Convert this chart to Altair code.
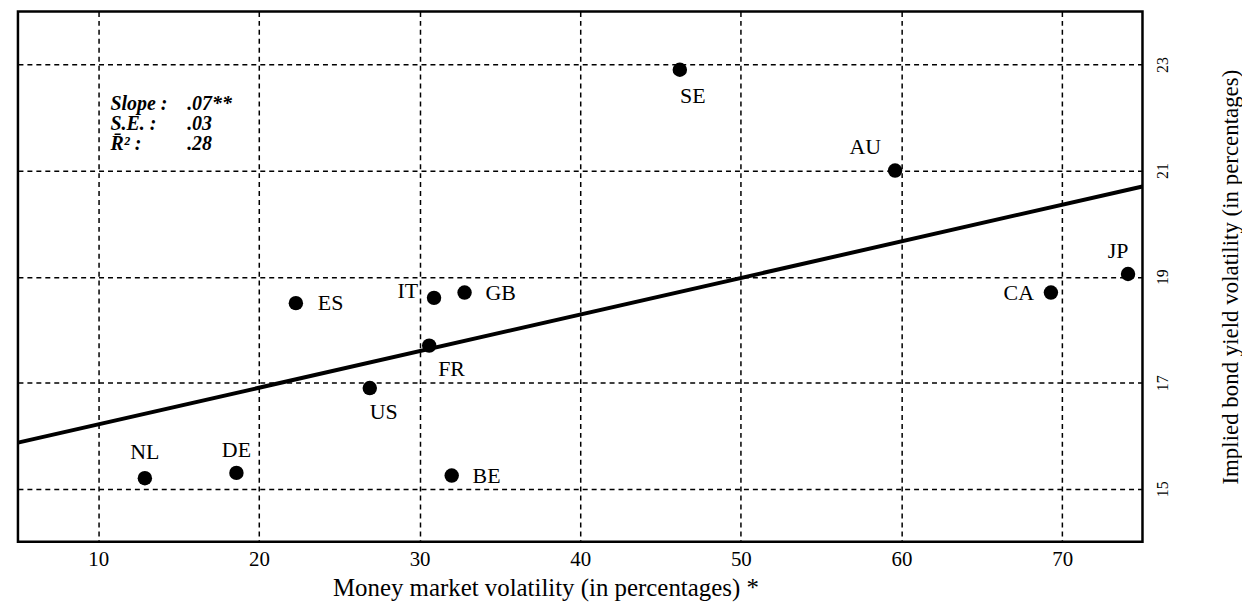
import altair as alt
import pandas as pd

# ---- data ----
countries = ["NL", "DE", "BE", "US", "FR", "IT", "GB", "ES", "SE", "AU", "JP", "CA"]
money_vol = [12.9, 18.6, 32.0, 26.9, 30.6, 30.9, 32.8, 22.3, 46.2, 59.6, 74.1, 69.3]
bond_vol = [15.2, 15.3, 15.25, 16.9, 17.7, 18.6, 18.7, 18.5, 22.9, 21.0, 19.05, 18.7]

x_ticks = [10, 20, 30, 40, 50, 60, 70]
y_ticks = [15, 17, 19, 21, 23]

fit_x = [5, 75]
fit_y = [15.87, 20.7]

stat_names = ["Slope :", "S.E. :", "R\u0304\u00b2 :"]
stat_values = [".07**", ".03", ".28"]

x_title = "Money market volatility (in percentages) *"
y_title = "Implied bond yield volatility (in percentages)"

# ---- styling ----
FONT = "Liberation Serif"
W, H = 1130, 533

# label placement relative to each dot: (align, dx, dy)
label_pos = {
    "NL": ("center", 0, -26), "DE": ("center", 0, -23), "BE": ("left", 21, 0),
    "US": ("center", 14, 24), "FR": ("left", 9, 24), "IT": ("right", -16, -7),
    "GB": ("left", 21, 0), "ES": ("left", 22, 0), "SE": ("center", 13, 26),
    "AU": ("center", -30, -24), "JP": ("center", -10, -23), "CA": ("right", -17, 0),
}

df = pd.DataFrame({"country": countries, "mm": money_vol, "bond": bond_vol})
fit = pd.DataFrame({"mm": fit_x, "bond": fit_y})

xs = alt.Scale(domain=[5, 75], nice=False, zero=False)
ys = alt.Scale(domain=[14, 24], nice=False, zero=False)

grid_style = dict(grid=True, gridDash=[5, 4], gridColor="black", gridWidth=1.5,
                  gridOpacity=1, ticks=False, domain=False)

xax = alt.Axis(values=x_ticks, labelFont=FONT, labelFontSize=21, labelColor="black",
               labelPadding=7, title=x_title, titleFont=FONT, titleFontSize=25,
               titleFontWeight="normal", titleColor="black", titleY=46,
               titleX=W / 2 - 35, titleAlign="center",
               titleBaseline="middle", **grid_style)
yax = alt.Axis(orient="right", values=y_ticks, labelFont=FONT, labelFontSize=16,
               labelColor="black", labelAngle=270, labelAlign="center",
               labelBaseline="top", labelPadding=12, title=y_title,
               titleFont=FONT, titleFontSize=23, titleFontWeight="normal",
               titleColor="black", titleAngle=270, titleX=88, titleY=H / 2,
               titleAlign="center", titleBaseline="middle", **grid_style)

X = alt.X("mm:Q", scale=xs, axis=xax)
Y = alt.Y("bond:Q", scale=ys, axis=yax)

line = alt.Chart(fit).mark_line(color="black", strokeWidth=4).encode(x=X, y=Y)
points = alt.Chart(df).mark_circle(color="black", size=210, opacity=1).encode(x=X, y=Y)

layers = [line, points]
for c in countries:
    a, dx, dy = label_pos[c]
    layers.append(
        alt.Chart(df).transform_filter(alt.datum.country == c)
        .mark_text(font=FONT, fontSize=22, color="black", align=a, baseline="middle",
                   dx=dx, dy=dy)
        .encode(x=X, y=Y, text="country:N")
    )

one = pd.DataFrame({"k": [0]})
stat_y = [93, 113, 133]
for i in range(len(stat_names)):
    layers.append(alt.Chart(one).mark_text(font=FONT, fontSize=20, fontStyle="italic",
                                           fontWeight="bold", color="black",
                                           align="left", baseline="middle")
                  .encode(x=alt.value(93), y=alt.value(stat_y[i]), text=alt.value(stat_names[i])))
    layers.append(alt.Chart(one).mark_text(font=FONT, fontSize=20, fontStyle="italic",
                                           fontWeight="bold", color="black",
                                           align="left", baseline="middle")
                  .encode(x=alt.value(170), y=alt.value(stat_y[i]), text=alt.value(stat_values[i])))

chart = (
    alt.layer(*layers)
    .properties(width=W, height=H, background="white",
                padding={"left": 2, "top": 2, "right": 0, "bottom": 0})
    .configure_view(stroke="black", strokeWidth=2.5)
)

chart.save("out.html", embed_options={"renderer": "svg", "actions": False})
